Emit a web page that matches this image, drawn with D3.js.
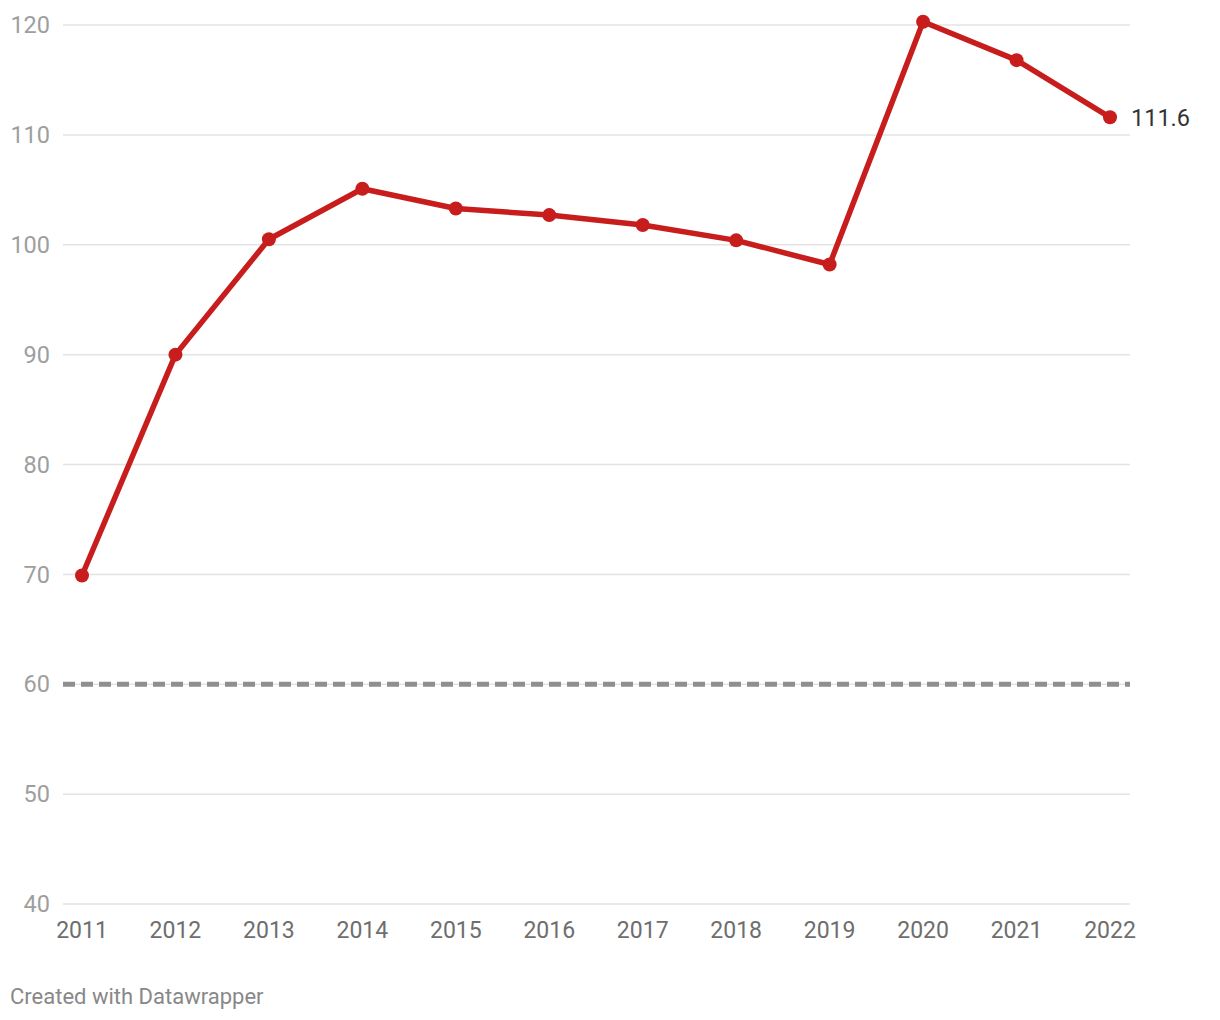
<!DOCTYPE html>
<html><head><meta charset="utf-8">
<script src="https://cdn.jsdelivr.net/npm/d3@7"></script>
<style>body{margin:0;background:#fff;font-family:Roboto,"Noto Sans",sans-serif}</style>
</head><body><svg id="c" width="1220" height="1020"></svg>
<script>
const years = [2011,2012,2013,2014,2015,2016,2017,2018,2019,2020,2021,2022];
const values = [69.9,90.0,100.5,105.1,103.3,102.7,101.8,100.4,98.2,120.3,116.8,111.6];
const yTicks = [40,50,60,70,80,90,100,110,120];
const refValue = 60;

const svg = d3.select('#c');
const x = d3.scalePoint().domain(years).range([82,1110]);
const y = d3.scaleLinear().domain([40,120]).range([904,25]);

const grid = svg.append('g');
grid.selectAll('line').data(yTicks).join('line')
  .attr('x1',63).attr('x2',1130)
  .attr('y1',d=>y(d)).attr('y2',d=>y(d))
  .attr('stroke','#e3e3e3').attr('stroke-width',1.5);
grid.selectAll('text').data(yTicks).join('text')
  .attr('x',50).attr('y',d=>y(d)).attr('dy','0.35em')
  .attr('text-anchor','end').attr('fill','#9e9e9e').attr('font-size',23.5)
  .text(d=>d);

svg.append('line').attr('x1',63).attr('x2',1130)
  .attr('y1',y(refValue)).attr('y2',y(refValue))
  .attr('stroke','#8f8f8f').attr('stroke-width',5).attr('stroke-dasharray','12,6');

svg.append('g').selectAll('text').data(years).join('text')
  .attr('x',d=>x(d)).attr('y',930).attr('dy','0.35em')
  .attr('text-anchor','middle').attr('fill','#6e6e6e').attr('font-size',23)
  .text(d=>d);

const data = years.map((yr,i)=>({yr,v:values[i]}));
svg.append('path').datum(data)
  .attr('d',d3.line().x(d=>x(d.yr)).y(d=>y(d.v)))
  .attr('fill','none').attr('stroke','#c71e1d').attr('stroke-width',5.5)
  .attr('stroke-linejoin','round').attr('stroke-linecap','round');
svg.append('g').selectAll('circle').data(data).join('circle')
  .attr('cx',d=>x(d.yr)).attr('cy',d=>y(d.v)).attr('r',7).attr('fill','#c71e1d');

const last = data[data.length-1];
svg.append('text').attr('x',x(last.yr)+21).attr('y',y(last.v)).attr('dy','0.35em')
  .attr('fill','#333').attr('font-size',23.5).text(last.v.toFixed(1));

svg.append('text').attr('x',10).attr('y',1004).attr('fill','#888').attr('font-size',22)
  .text('Created with Datawrapper');
</script></body></html>
